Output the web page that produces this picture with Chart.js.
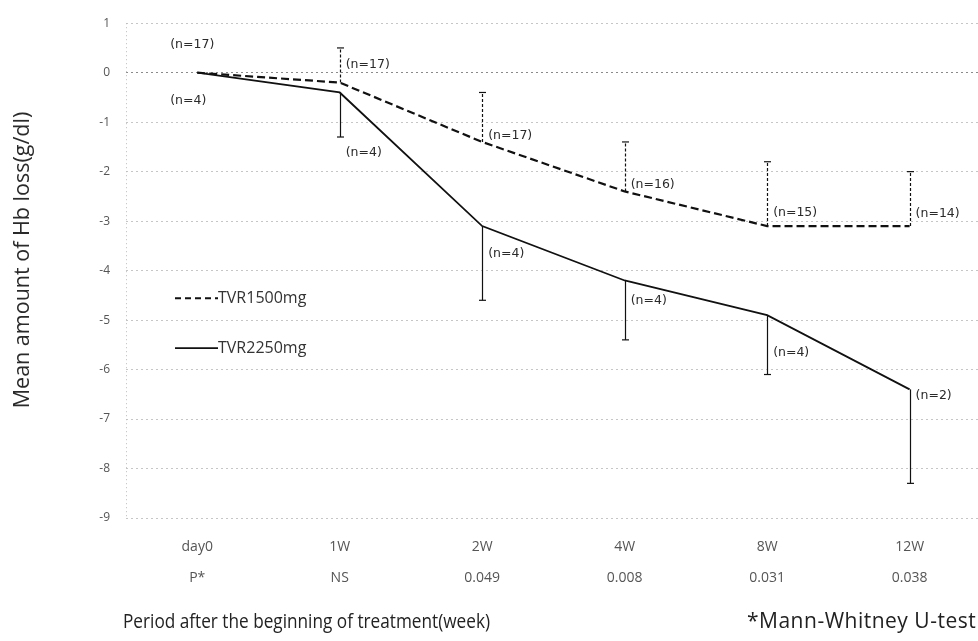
<!DOCTYPE html>
<html>
<head>
<meta charset="utf-8">
<script src="https://cdn.jsdelivr.net/npm/chart.js@4.4.1/dist/chart.umd.min.js"></script>
<style>
  body { margin: 0; background: #fff; }
  #grafica { display: block; }
</style>
</head>
<body>
<canvas id="grafica" width="978" height="641"></canvas>
<script>
// datos
var weeks = ["day0", "1W", "2W", "4W", "8W", "12W"];
var pValues = ["P*", "NS", "0.049", "0.008", "0.031", "0.038"];
var mean1500 = [0, -0.2, -1.4, -2.4, -3.1, -3.1];
var sd1500 = [0, 0.7, 1.0, 1.0, 1.3, 1.1];
var mean2250 = [0, -0.4, -3.1, -4.2, -4.9, -6.4];
var sd2250 = [0, 0.9, 1.5, 1.2, 1.2, 1.9];
var n1500 = [17, 17, 17, 16, 15, 14];
var n2250 = [4, 4, 4, 4, 4, 2];
var yMin = -9, yMax = 1;

// desplazamiento de las etiquetas (n=..) en pixeles
var dy1500 = [-28, -18, -6, -7, -13, -12];
var dy2250 = [28, 60, 28, 20, 38, 6];

function toPoints(arr) {
  return arr.map(function (v, i) { return { x: i, y: v }; });
}

const overlay = {
  id: "overlay",
  afterDatasetsDraw(chart) {
    const ctx = chart.ctx;
    const area = chart.chartArea;
    const x = chart.scales.x, y = chart.scales.y;

    // eje izquierdo punteado
    ctx.save();
    ctx.strokeStyle = "#bdbdbd";
    ctx.lineWidth = 1;
    ctx.setLineDash([1, 3]);
    ctx.beginPath();
    ctx.moveTo(area.left + 0.5, area.top);
    ctx.lineTo(area.left + 0.5, area.bottom);
    ctx.stroke();
    ctx.restore();

    // barras de error
    function bars(mean, sd, dir, dash, width) {
      ctx.save();
      ctx.strokeStyle = "#111";
      ctx.lineWidth = width;
      for (var i = 0; i < mean.length; i++) {
        if (!sd[i]) continue;
        var px = Math.round(x.getPixelForValue(i)) + 0.5;
        var y0 = y.getPixelForValue(mean[i]);
        var y1 = y.getPixelForValue(mean[i] + dir * sd[i]);
        ctx.setLineDash(dash);
        ctx.beginPath();
        ctx.moveTo(px, y0);
        ctx.lineTo(px, y1);
        ctx.stroke();
        ctx.setLineDash([]);
        ctx.beginPath();
        ctx.moveTo(px - 3.5, y1);
        ctx.lineTo(px + 3.5, y1);
        ctx.stroke();
      }
      ctx.restore();
    }
    bars(mean1500, sd1500, 1, [3, 2], 1.2);
    bars(mean2250, sd2250, -1, [], 1.2);

    // etiquetas (n=..)
    ctx.save();
    ctx.font = "12.5px 'DejaVu Sans'";
    ctx.fillStyle = "#2a2a2a";
    ctx.textBaseline = "middle";
    ctx.textAlign = "left";
    for (var i = 0; i < weeks.length; i++) {
      var px = x.getPixelForValue(i);
      var dx = i === 0 ? -27 : 6;
      ctx.fillText("(n=" + n1500[i] + ")", px + dx, y.getPixelForValue(mean1500[i]) + dy1500[i]);
      ctx.fillText("(n=" + n2250[i] + ")", px + dx, y.getPixelForValue(mean2250[i]) + dy2250[i]);
    }
    ctx.restore();

    // leyenda dentro del grafico
    var lx = area.left + 49;
    var ly1 = area.top + 275, ly2 = area.top + 325;
    ctx.save();
    ctx.strokeStyle = "#111";
    ctx.lineWidth = 2;
    ctx.setLineDash([6, 4]);
    ctx.beginPath();
    ctx.moveTo(lx, ly1);
    ctx.lineTo(lx + 43, ly1);
    ctx.stroke();
    ctx.setLineDash([]);
    ctx.lineWidth = 1.8;
    ctx.beginPath();
    ctx.moveTo(lx, ly2);
    ctx.lineTo(lx + 43, ly2);
    ctx.stroke();
    ctx.font = "16px 'Open Sans'";
    ctx.fillStyle = "#333";
    ctx.textBaseline = "middle";
    ctx.fillText(chart.data.datasets[0].label, lx + 43, ly1);
    ctx.fillText(chart.data.datasets[1].label, lx + 43, ly2);
    ctx.restore();
  },
  afterDraw(chart) {
    const ctx = chart.ctx;
    // titulo del eje y
    ctx.save();
    ctx.font = "21.5px 'Open Sans'";
    ctx.fillStyle = "#2a2a2a";
    ctx.textAlign = "center";
    ctx.textBaseline = "middle";
    ctx.translate(23, 260);
    ctx.rotate(-Math.PI / 2);
    ctx.fillText("Mean amount of Hb loss(g/dl)", 0, 0);
    ctx.restore();

    // titulo del eje x (letra estrecha) y nota
    ctx.save();
    ctx.font = "20px 'Open Sans'";
    ctx.fillStyle = "#222";
    ctx.textBaseline = "middle";
    ctx.textAlign = "left";
    ctx.translate(123, 622);
    ctx.scale(0.86, 1);
    ctx.fillText("Period after the beginning of treatment(week)", 0, 0);
    ctx.restore();

    ctx.save();
    ctx.font = "21px 'Open Sans'";
    ctx.fillStyle = "#222";
    ctx.textBaseline = "middle";
    ctx.textAlign = "left";
    ctx.letterSpacing = "0.5px";
    ctx.fillText("*Mann-Whitney U-test", 747, 622);
    ctx.restore();
  }
};

new Chart(document.getElementById("grafica"), {
  type: "line",
  data: {
    datasets: [
      {
        label: "TVR1500mg",
        data: toPoints(mean1500),
        borderColor: "#111",
        borderWidth: 2.2,
        borderDash: [8, 4],
        pointRadius: 0,
        fill: false,
        tension: 0
      },
      {
        label: "TVR2250mg",
        data: toPoints(mean2250),
        borderColor: "#111",
        borderWidth: 1.8,
        pointRadius: 0,
        fill: false,
        tension: 0
      }
    ]
  },
  options: {
    responsive: false,
    animation: false,
    layout: { padding: { top: 22, right: 0, left: 0, bottom: 0 } },
    plugins: {
      legend: { display: false },
      tooltip: { enabled: false }
    },
    scales: {
      x: {
        type: "linear",
        min: -0.5,
        max: 5.48,
        afterBuildTicks: function (scale) {
          scale.ticks = weeks.map(function (w, i) { return { value: i }; });
        },
        afterFit: function (scale) { scale.height = 123; },
        grid: { display: false, drawTicks: false },
        border: { display: false },
        ticks: {
          autoSkip: false,
          maxRotation: 0,
          padding: 14,
          color: "#555",
          font: { family: "'Open Sans'", size: 14, lineHeight: 2.2 },
          callback: function (v) { return [weeks[v], pValues[v]]; }
        }
      },
      y: {
        min: yMin,
        max: yMax,
        afterFit: function (scale) { scale.width = 126; },
        grid: {
          drawTicks: false,
          lineWidth: 1,
          color: function (c) { return c.tick && c.tick.value === 0 ? "#8a8a8a" : "#c6c6c6"; }
        },
        border: { display: false, dash: [2, 3] },
        ticks: {
          stepSize: 1,
          padding: 16,
          color: "#555",
          font: { family: "'Open Sans'", size: 12 }
        },
        title: { display: false }
      }
    }
  },
  plugins: [overlay]
});
</script>
</body>
</html>
